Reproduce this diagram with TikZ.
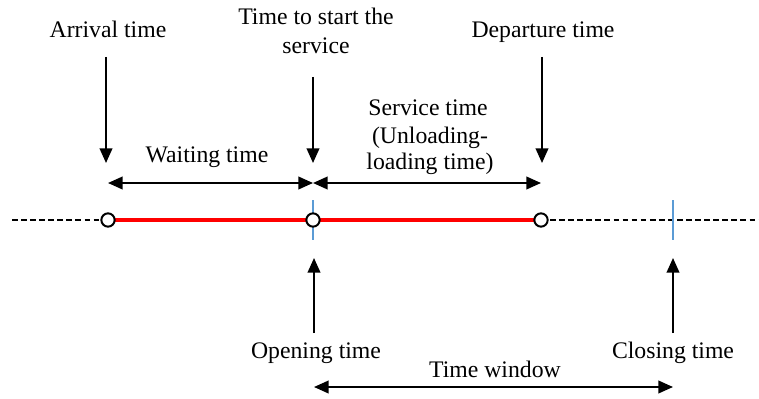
\documentclass[tikz,border=0pt]{standalone}
\usepackage{fontspec}
\setmainfont{Liberation Serif}
\usetikzlibrary{arrows.meta}
\begin{document}
\begin{tikzpicture}[x=0.75pt,y=-0.75pt,
  lbl/.style={anchor=base,inner sep=0pt,font=\fontsize{17.8}{21}\selectfont},
  arr/.style={line width=1.4pt,-{Triangle[length=11pt,width=9.5pt]}},
  darr/.style={line width=1.4pt,{Triangle[length=11pt,width=9.5pt]}-{Triangle[length=11pt,width=9.5pt]}},
  pt/.style={circle,draw=black,fill=white,line width=1.5pt,minimum size=10pt,inner sep=0pt},
  tickline/.style={draw={rgb,255:red,91;green,155;blue,213},line width=1.4pt},
  redl/.style={draw=red,line width=2.8pt},
  dashline/.style={draw=black,line width=1.4pt,dash pattern=on 4.3pt off 2.5pt}]
\useasboundingbox (0,0) rectangle (759,399);
% timeline
\coordinate (L) at (12,220);
\coordinate (R) at (759,220);
\coordinate (a0) at (108,220);
\coordinate (s0) at (313,220);
\coordinate (d0) at (541,220);
\coordinate (c0) at (673,220);
\draw[dashline] (L) -- (a0);
\draw[dashline] (d0) -- (R);
\draw[redl] (a0) -- (s0) -- (d0);
\coordinate (st1) at (313,200);
\coordinate (st2) at (313,240);
\coordinate (ct1) at (673,200);
\coordinate (ct2) at (673,240);
\draw[tickline] (st1) -- (st2);
\draw[tickline] (ct1) -- (ct2);
\node[pt] (a) at (a0) {};
\node[pt] (s) at (s0) {};
\node[pt] (d) at (d0) {};
% top labels
\node[lbl] (arrT) at (108,38) {Arrival time};
\node[lbl] (stT1) at (316,25) {Time to start the};
\node[lbl] (stT2) at (316,54) {service};
\node[lbl] (depT) at (543,38) {Departure time};
\node[lbl] (svT1) at (428,116) {Service time};
\node[lbl] (svT2) at (430,143) {(Unloading-};
\node[lbl] (svT3) at (430,169) {loading time)};
\node[lbl] (waitT) at (207,162) {Waiting time};
% down arrows
\coordinate (ad1) at (106,57);
\coordinate (ad2) at (106,163);
\coordinate (sd1) at (313,77);
\coordinate (sd2) at (313,163);
\coordinate (dd1) at (542,57);
\coordinate (dd2) at (542,163);
\draw[arr] (ad1) -- (ad2);
\draw[arr] (sd1) -- (sd2);
\draw[arr] (dd1) -- (dd2);
% interval arrows
\coordinate (w1) at (108,183);
\coordinate (w2) at (313,183);
\coordinate (w3) at (541,183);
\draw[darr] (w1) -- (w2);
\draw[darr] (w2) -- (w3);
% bottom
\coordinate (ou1) at (314,333);
\coordinate (ou2) at (314,258);
\coordinate (cu1) at (673,333);
\coordinate (cu2) at (673,258);
\draw[arr] (ou1) -- (ou2);
\draw[arr] (cu1) -- (cu2);
\node[lbl] (openT) at (316,358) {Opening time};
\node[lbl] (closeT) at (673,358) {Closing time};
\node[lbl] (twT) at (495,377) {Time window};
\coordinate (tw1) at (314,387);
\coordinate (tw2) at (673,387);
\draw[darr] (tw1) -- (tw2);
\end{tikzpicture}
\end{document}
